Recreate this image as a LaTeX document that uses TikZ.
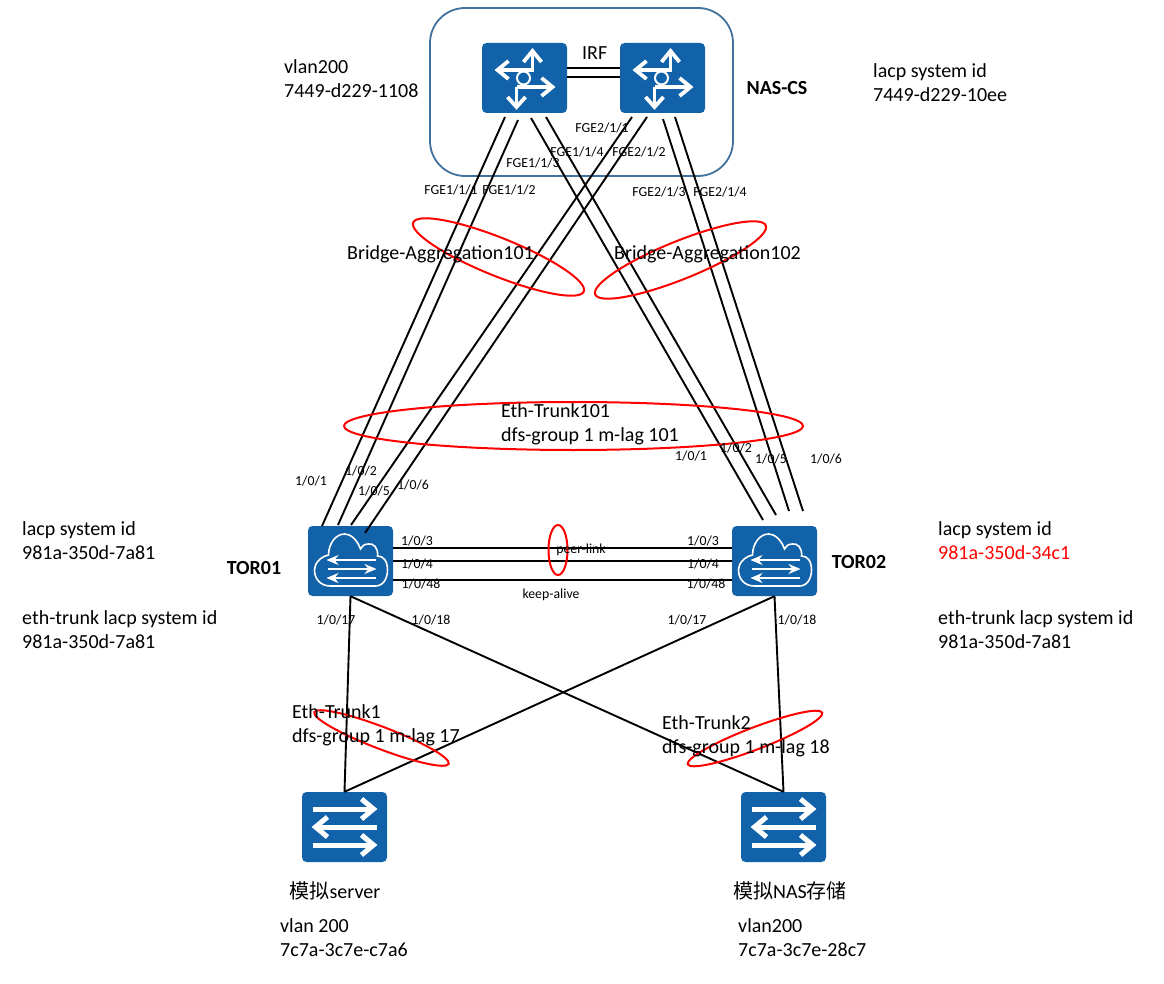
\documentclass[tikz,border=0pt]{standalone}
\usepackage{fontspec}
\setmainfont{Carlito}
\newfontfamily\cjk{Noto Sans CJK SC}
\usetikzlibrary{positioning,arrows.meta,shapes.geometric}
\definecolor{iconblue}{HTML}{1262A9}
\definecolor{framesteel}{HTML}{41719C}
\tikzset{
  devbox/.style={draw=none,fill=iconblue,rounded corners=4.5pt,minimum width=85pt,minimum height=70pt,inner sep=0pt},
  link/.style={draw=black,line width=1.9pt},
  lagring/.style={draw=red,line width=2pt,ellipse,inner sep=0pt},
  infotext/.style={font=\fontsize{20}{24}\selectfont,align=left,anchor=west,inner sep=0pt},
  portlbl/.style={font=\fontsize{13.8}{15}\selectfont,inner sep=0pt},
  devname/.style={font=\fontsize{20}{22}\selectfont\bfseries,inner sep=0pt},
  pics/routericon/.style={code={
    \begin{scope}[white,line width=3.8pt]
      \draw (8,-8) -- (-26,-8);
      \draw (-16,-17) -- (-27,-8) -- (-16,1);
      \draw (8,-6) -- (8,-26);
      \draw (-1,-16) -- (8,-27) -- (17,-16);
      \draw (-8,9) -- (27,9);
      \draw (17,0) -- (28,9) -- (17,18);
      \draw (-8,9) -- (-8,28);
      \draw (-17,19) -- (-8,29) -- (1,19);
      \draw[line width=2pt] (-1,0) circle (6.5);
    \end{scope}
  }},
  pics/switchicon/.style={code={
    \begin{scope}[white,line width=5pt]
      \foreach \ya in {-18,18}{
        \draw (-32,\ya) -- (28,\ya);
        \draw (17,\ya-10) -- (29,\ya) -- (17,\ya+10);
      }
      \draw (32,0) -- (-28,0);
      \draw (-17,-10) -- (-29,0) -- (-17,10);
    \end{scope}
  }},
  pics/cloudicon/.style={code={
    \draw[white,line width=1.6pt] (-20,25) -- (25,25)
      .. controls (33,25) and (37,17) .. (37,9)
      .. controls (37,0) and (33,-5) .. (27,-5)
      .. controls (28,-13) and (23,-18) .. (18,-17)
      .. controls (14,-17) and (11,-15) .. (10,-12)
      .. controls (6,-23) and (-1,-27) .. (-6,-27)
      .. controls (-15,-27) and (-22,-17) .. (-22,-6)
      .. controls (-31,-4) and (-36,3) .. (-36,9)
      .. controls (-36,18) and (-30,25) .. (-20,25);
    \begin{scope}[white,line width=1.4pt,>={Stealth[length=12pt,width=10pt]}]
      \draw[->] (25,-1) -- (-24,-1);
      \draw[->] (-23,8) -- (26,8);
      \draw[->] (25,17) -- (-24,17);
    \end{scope}
  }}
}
\begin{document}
\begin{tikzpicture}[x=1pt,y=-1pt]
  \useasboundingbox (0,0) rectangle (1164,984);
  \node[draw=framesteel,line width=1.8pt,rounded corners=35pt,minimum width=303pt,minimum height=168pt,inner sep=0pt] (nascs) at (581.5,92) {};
  \node[devbox] (r1) at (524.5,78) {};
  \node[devbox] (r2) at (662.5,78) {};
  \node[devbox] (t1) at (350.5,561) {};
  \node[devbox] (t2) at (774.5,561) {};
  \node[devbox] (s1) at (344.5,827) {};
  \node[devbox] (s2) at (783.5,827) {};
  \pic at (r1) {routericon};
  \pic at (r2) {routericon};
  \pic at (t1) {cloudicon};
  \pic at (t2) {cloudicon};
  \pic at (s1) {switchicon};
  \pic at (s2) {switchicon};

  \draw[link] ([yshift=10pt]r1.east) -- ([yshift=10pt]r2.west);
  \draw[link] ([yshift=1pt]r1.east) -- ([yshift=1pt]r2.west);
  \foreach \a/\b/\c/\d [count=\i] in {505/117/322/526,518/120/338/525,531/118/763/520,546/117/776/515,632/117/351/525,647/117/365/533,663/119/789/511,675/117/803/511}{
    \coordinate (upa\i) at (\a,\b);
    \coordinate (upb\i) at (\c,\d);
    \draw[link] (upa\i) -- (upb\i);
  }
  \draw[link] ([yshift=13pt]t1.east) -- ([yshift=13pt]t2.west);
  \draw[link] (t1.east) -- (t2.west);
  \draw[link] ([yshift=-19pt]t1.east) -- ([yshift=-19pt]t2.west);
  \draw[link] (t1.south) -- (s1.north);
  \draw[link] (t1.south) -- (s2.north);
  \draw[link] (t2.south) -- (s1.north);
  \draw[link] (t2.south) -- (s2.north);

  \node[lagring,minimum width=184pt,minimum height=38pt,rotate=-22] (ba101) at (498.5,257) {};
  \node[lagring,minimum width=184pt,minimum height=38pt,rotate=22] (ba102) at (680.5,260) {};
  \node[lagring,minimum width=459pt,minimum height=48pt] (et101) at (573.5,426) {};
  \node[lagring,minimum width=19pt,minimum height=50pt] (peerring) at (558,550) {};
  \node[lagring,minimum width=144pt,minimum height=22pt,rotate=-21] (et1) at (381.5,738) {};
  \node[lagring,minimum width=144pt,minimum height=22pt,rotate=21] (et2) at (755,738.5) {};

  \node[infotext] (infonas) at (284,79) {vlan200\\7449-d229-1108};
  \node[infotext] (infocs) at (873,83) {lacp system id\\7449-d229-10ee};
  \node[infotext] (irflbl) at (582,53) {IRF};
  \node[devname] (nasname) at (777,88) {NAS-CS};
  \node[infotext] (ba101lbl) at (347,254) {Bridge-Aggregation101};
  \node[infotext] (ba102lbl) at (614,254) {Bridge-Aggregation102};
  \node[infotext] (et101lbl) at (501,424) {Eth-Trunk101\\dfs-group 1 m-lag 101};
  \node[infotext] (t1lacp) at (22,541) {lacp system id\\981a-350d-7a81};
  \node[infotext] (t1eth) at (22,630) {eth-trunk lacp system id\\981a-350d-7a81};
  \node[infotext] (t2lacp) at (938,541) {lacp system id\\\textcolor{red}{981a-350d-34c1}};
  \node[infotext] (t2eth) at (938,630) {eth-trunk lacp system id\\981a-350d-7a81};
  \node[devname] (t1name) at (254,568) {TOR01};
  \node[devname] (t2name) at (859,562) {TOR02};
  \node[infotext] (et1lbl) at (292,725.5) {Eth-Trunk1\\dfs-group 1 m-lag 17};
  \node[infotext] (et2lbl) at (662,736) {Eth-Trunk2\\dfs-group 1 m-lag 18};
  \node[infotext,anchor=center] (s1name) at (335,891) {{\cjk 模拟}server};
  \node[infotext,anchor=center] (s2name) at (790,891) {{\cjk 模拟}NAS{\cjk 存储}};
  \node[infotext] (s1info) at (280,938) {vlan 200\\7c7a-3c7e-c7a6};
  \node[infotext] (s2info) at (738,938) {vlan200\\7c7a-3c7e-28c7};

  \foreach \x/\y/\txt [count=\i] in {451/190/{FGE1/1/1},509/190/{FGE1/1/2},533/163/{FGE1/1/3},577/152/{FGE1/1/4},602/128/{FGE2/1/1},639/152/{FGE2/1/2},659/192/{FGE2/1/3},720/192/{FGE2/1/4},311/481/{1/0/1},361/471/{1/0/2},374/491/{1/0/5},413/485/{1/0/6},691/456/{1/0/1},736/448/{1/0/2},771/459/{1/0/5},826/459/{1/0/6},417/541/{1/0/3},417/564/{1/0/4},421/584/{1/0/48},703/541/{1/0/3},703/564/{1/0/4},706/584/{1/0/48},581/550/{peer-link},551/595/{keep-alive},336/620/{1/0/17},431/620/{1/0/18},687/620/{1/0/17},797/620/{1/0/18}}{
    \node[portlbl] (port\i) at (\x,\y) {\txt};
  }
\end{tikzpicture}
\end{document}
